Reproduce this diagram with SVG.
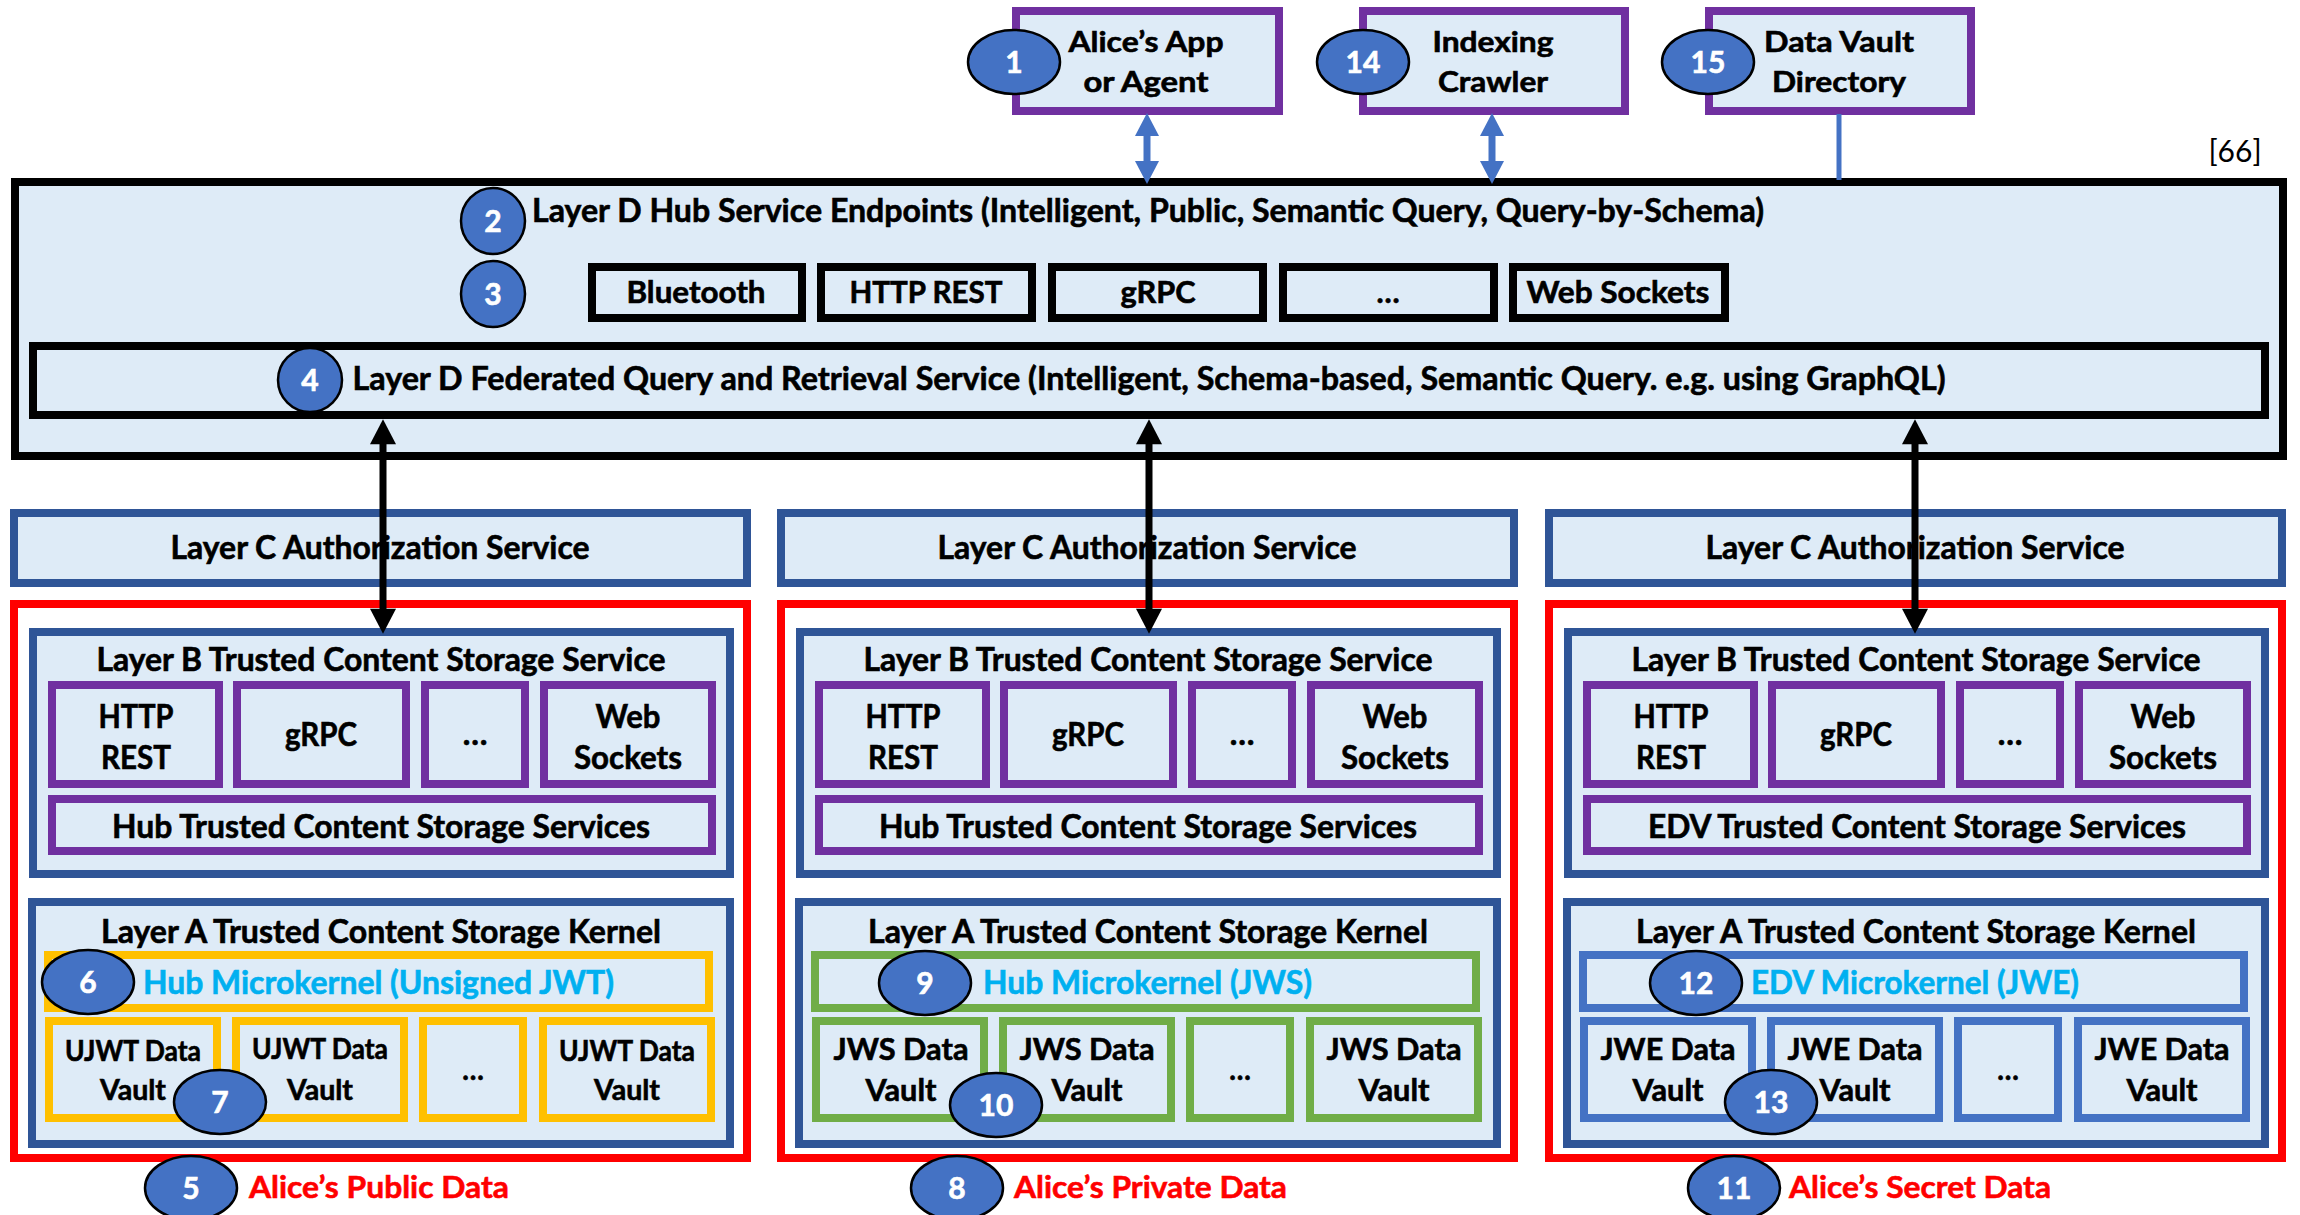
<svg xmlns="http://www.w3.org/2000/svg" width="2300" height="1215" viewBox="0 0 2300 1215">
<defs>
<style>
.bg{fill:#DEEBF7}
.pur{fill:#DEEBF7;stroke:#7030A0;stroke-width:8}
.blk{fill:#DEEBF7;stroke:#000;stroke-width:8}
.dbl{fill:#DEEBF7;stroke:#2F5597;stroke-width:8}
.red{fill:#FFFFFF;stroke:#FF0000;stroke-width:8}
.yel{fill:#DEEBF7;stroke:#FFC000;stroke-width:8}
.grn{fill:#DEEBF7;stroke:#70AD47;stroke-width:8}
.blu{fill:#DEEBF7;stroke:#4472C4;stroke-width:8}
text{font-family:Lato,"Open Sans","Liberation Sans",sans-serif;font-weight:700;fill:#000;stroke:#000;stroke-width:0.6}
.c{text-anchor:middle}
.t32{font-size:32px}
.t30{font-size:30px}
.t28{font-size:28px}
.cy{fill:#00B0F0;stroke:#00B0F0;font-size:32px}
.rd{fill:#FF0000;stroke:#FF0000;font-size:31px}
.badge ellipse{fill:#4472C4;stroke:#000;stroke-width:2.5}
.badge text{fill:#FFFFFF;stroke:#FFFFFF;font-size:30px;text-anchor:middle}
.ref{font-weight:400;font-size:30px;stroke:none}
</style>
<marker id="ab" markerUnits="userSpaceOnUse" markerWidth="26" markerHeight="26" viewBox="0 0 24 25" refX="4" refY="12.5" orient="auto-start-reverse">
<path d="M0,0 L24,12.5 L0,25 z" fill="#000"/>
</marker>
<marker id="ablue" markerUnits="userSpaceOnUse" markerWidth="24" markerHeight="24" viewBox="0 0 23 24" refX="4" refY="12" orient="auto-start-reverse">
<path d="M0,0 L23,12 L0,24 z" fill="#4472C4"/>
</marker>
</defs>
<rect width="2300" height="1215" fill="#FFFFFF"/>

<!-- Top nodes -->
<g id="node-app">
<rect class="pur" x="1016" y="11" width="263" height="100"/>
<text class="c t28" x="1146" y="52" textLength="155" lengthAdjust="spacingAndGlyphs">Alice’s App</text>
<text class="c t28" x="1146" y="92" textLength="125" lengthAdjust="spacingAndGlyphs">or Agent</text>
<g class="badge"><ellipse cx="1014" cy="62" rx="46" ry="32"/><text x="1014" y="73">1</text></g>
</g>
<g id="node-crawler">
<rect class="pur" x="1363" y="11" width="262" height="100"/>
<text class="c t28" x="1493" y="52" textLength="121" lengthAdjust="spacingAndGlyphs">Indexing</text>
<text class="c t28" x="1493" y="92" textLength="110" lengthAdjust="spacingAndGlyphs">Crawler</text>
<g class="badge"><ellipse cx="1363" cy="62" rx="46" ry="32"/><text x="1363" y="73">14</text></g>
</g>
<g id="node-directory">
<rect class="pur" x="1709" y="11" width="262" height="100"/>
<text class="c t28" x="1839" y="52" textLength="150" lengthAdjust="spacingAndGlyphs">Data Vault</text>
<text class="c t28" x="1839" y="92" textLength="134" lengthAdjust="spacingAndGlyphs">Directory</text>
<g class="badge"><ellipse cx="1708" cy="62" rx="46" ry="32"/><text x="1708" y="73">15</text></g>
</g>
<text id="ref66" class="ref c" x="2235" y="162">[66]</text>

<!-- Layer D -->
<g id="layer-d">
<rect class="blk" x="15" y="182" width="2268" height="274"/>
<text class="c t32" x="1148" y="222" textLength="1232" lengthAdjust="spacingAndGlyphs">Layer D Hub Service Endpoints (Intelligent, Public, Semantic Query, Query-by-Schema)</text>
<g class="badge"><ellipse cx="493" cy="221" rx="32" ry="33"/><text x="493" y="232">2</text></g>
</g>
<g id="layer-d-protocols">
<g id="d-bluetooth"><rect class="blk" x="592" y="267" width="210" height="51"/><text class="c t30" x="696" y="303" textLength="139" lengthAdjust="spacingAndGlyphs">Bluetooth</text></g>
<g id="d-http"><rect class="blk" x="821" y="267" width="211" height="51"/><text class="c t30" x="926" y="303" textLength="153" lengthAdjust="spacingAndGlyphs">HTTP REST</text></g>
<g id="d-grpc"><rect class="blk" x="1052" y="267" width="211" height="51"/><text class="c t30" x="1158" y="303" textLength="75" lengthAdjust="spacingAndGlyphs">gRPC</text></g>
<g id="d-more"><rect class="blk" x="1283" y="267" width="211" height="51"/><text class="c t30" x="1388" y="303">…</text></g>
<g id="d-ws"><rect class="blk" x="1513" y="267" width="212" height="51"/><text class="c t30" x="1618" y="303" textLength="183" lengthAdjust="spacingAndGlyphs">Web Sockets</text></g>
<g class="badge"><ellipse cx="493" cy="294" rx="32" ry="33"/><text x="493" y="305">3</text></g>
</g>
<g id="layer-d-federated">
<rect class="blk" x="33" y="346" width="2232" height="69"/>
<text class="c t32" x="1149" y="390" textLength="1593" lengthAdjust="spacingAndGlyphs">Layer D Federated Query and Retrieval Service (Intelligent, Schema-based, Semantic Query. e.g. using GraphQL)</text>
<g class="badge"><ellipse cx="310" cy="380" rx="32" ry="32"/><text x="310" y="391">4</text></g>
</g>

<!-- Column 1: Public -->
<g id="c1-layer-c"><rect class="dbl" x="14" y="513" width="733" height="70"/><text class="c t32" x="380" y="559" textLength="419" lengthAdjust="spacingAndGlyphs">Layer C Authorization Service</text></g>
<g id="c1-public">
<rect class="red" x="14" y="604" width="733" height="554"/>
<g id="c1-layer-b">
<rect class="dbl" x="33" y="632" width="697" height="242"/>
<text class="c t32" x="381" y="671" textLength="569" lengthAdjust="spacingAndGlyphs">Layer B Trusted Content Storage Service</text>
<rect class="pur" x="52" y="685" width="167" height="99"/><text class="c t32" x="136" y="728" textLength="75" lengthAdjust="spacingAndGlyphs">HTTP</text><text class="c t32" x="136" y="769" textLength="70" lengthAdjust="spacingAndGlyphs">REST</text>
<rect class="pur" x="237" y="685" width="169" height="99"/><text class="c t32" x="321" y="746" textLength="72" lengthAdjust="spacingAndGlyphs">gRPC</text>
<rect class="pur" x="425" y="685" width="100" height="99"/><text class="c t32" x="475" y="745">…</text>
<rect class="pur" x="544" y="685" width="168" height="99"/><text class="c t32" x="628" y="728" textLength="65" lengthAdjust="spacingAndGlyphs">Web</text><text class="c t32" x="628" y="769" textLength="108" lengthAdjust="spacingAndGlyphs">Sockets</text>
<rect class="pur" x="52" y="799" width="660" height="52"/><text class="c t32" x="381" y="838" textLength="538" lengthAdjust="spacingAndGlyphs">Hub Trusted Content Storage Services</text>
</g>
<g id="c1-layer-a">
<rect class="dbl" x="32" y="902" width="698" height="242"/>
<text class="c t32" x="381" y="943" textLength="560" lengthAdjust="spacingAndGlyphs">Layer A Trusted Content Storage Kernel</text>
<rect class="yel" x="48" y="955" width="661" height="53"/>
<text class="cy" x="143" y="994" textLength="471" lengthAdjust="spacingAndGlyphs">Hub Microkernel (Unsigned JWT)</text>
<rect class="yel" x="49" y="1021" width="168" height="97"/><text class="c t28" x="133" y="1061" textLength="136" lengthAdjust="spacingAndGlyphs">UJWT Data</text><text class="c t28" x="133" y="1100" textLength="66" lengthAdjust="spacingAndGlyphs">Vault</text>
<rect class="yel" x="236" y="1021" width="168" height="97"/><text class="c t28" x="320" y="1059" textLength="136" lengthAdjust="spacingAndGlyphs">UJWT Data</text><text class="c t28" x="320" y="1100" textLength="66" lengthAdjust="spacingAndGlyphs">Vault</text>
<rect class="yel" x="423" y="1021" width="100" height="97"/><text class="c t28" x="473" y="1080">…</text>
<rect class="yel" x="543" y="1021" width="168" height="97"/><text class="c t28" x="627" y="1061" textLength="136" lengthAdjust="spacingAndGlyphs">UJWT Data</text><text class="c t28" x="627" y="1100" textLength="66" lengthAdjust="spacingAndGlyphs">Vault</text>
<g class="badge"><ellipse cx="88" cy="982" rx="46" ry="32"/><text x="88" y="993">6</text></g>
<g class="badge"><ellipse cx="220" cy="1102" rx="46" ry="32"/><text x="220" y="1113">7</text></g>
</g>
<g class="badge"><ellipse cx="191" cy="1188" rx="46" ry="32"/><text x="191" y="1199">5</text></g>
<text class="rd" x="249" y="1198" textLength="260" lengthAdjust="spacingAndGlyphs">Alice’s Public Data</text>
</g>

<!-- Column 2: Private -->
<g id="c2-layer-c"><rect class="dbl" x="781" y="513" width="733" height="70"/><text class="c t32" x="1147" y="559" textLength="419" lengthAdjust="spacingAndGlyphs">Layer C Authorization Service</text></g>
<g id="c2-private">
<rect class="red" x="781" y="604" width="733" height="554"/>
<g id="c2-layer-b">
<rect class="dbl" x="800" y="632" width="697" height="242"/>
<text class="c t32" x="1148" y="671" textLength="569" lengthAdjust="spacingAndGlyphs">Layer B Trusted Content Storage Service</text>
<rect class="pur" x="819" y="685" width="167" height="99"/><text class="c t32" x="903" y="728" textLength="75" lengthAdjust="spacingAndGlyphs">HTTP</text><text class="c t32" x="903" y="769" textLength="70" lengthAdjust="spacingAndGlyphs">REST</text>
<rect class="pur" x="1004" y="685" width="169" height="99"/><text class="c t32" x="1088" y="746" textLength="72" lengthAdjust="spacingAndGlyphs">gRPC</text>
<rect class="pur" x="1192" y="685" width="100" height="99"/><text class="c t32" x="1242" y="745">…</text>
<rect class="pur" x="1311" y="685" width="168" height="99"/><text class="c t32" x="1395" y="728" textLength="65" lengthAdjust="spacingAndGlyphs">Web</text><text class="c t32" x="1395" y="769" textLength="108" lengthAdjust="spacingAndGlyphs">Sockets</text>
<rect class="pur" x="819" y="799" width="660" height="52"/><text class="c t32" x="1148" y="838" textLength="538" lengthAdjust="spacingAndGlyphs">Hub Trusted Content Storage Services</text>
</g>
<g id="c2-layer-a">
<rect class="dbl" x="799" y="902" width="698" height="242"/>
<text class="c t32" x="1148" y="943" textLength="560" lengthAdjust="spacingAndGlyphs">Layer A Trusted Content Storage Kernel</text>
<rect class="grn" x="815" y="955" width="661" height="53"/>
<text class="cy" x="983" y="994" textLength="329" lengthAdjust="spacingAndGlyphs">Hub Microkernel (JWS)</text>
<rect class="grn" x="816" y="1021" width="168" height="97"/><text class="c t30" x="901" y="1060" textLength="135" lengthAdjust="spacingAndGlyphs">JWS Data</text><text class="c t30" x="901" y="1101" textLength="71" lengthAdjust="spacingAndGlyphs">Vault</text>
<rect class="grn" x="1003" y="1021" width="168" height="97"/><text class="c t30" x="1087" y="1060" textLength="135" lengthAdjust="spacingAndGlyphs">JWS Data</text><text class="c t30" x="1087" y="1101" textLength="71" lengthAdjust="spacingAndGlyphs">Vault</text>
<rect class="grn" x="1190" y="1021" width="100" height="97"/><text class="c t28" x="1240" y="1080">…</text>
<rect class="grn" x="1310" y="1021" width="168" height="97"/><text class="c t30" x="1394" y="1060" textLength="135" lengthAdjust="spacingAndGlyphs">JWS Data</text><text class="c t30" x="1394" y="1101" textLength="71" lengthAdjust="spacingAndGlyphs">Vault</text>
<g class="badge"><ellipse cx="925" cy="983" rx="46" ry="32"/><text x="925" y="994">9</text></g>
<g class="badge"><ellipse cx="996" cy="1105" rx="46" ry="32"/><text x="996" y="1116">10</text></g>
</g>
<g class="badge"><ellipse cx="957" cy="1188" rx="46" ry="32"/><text x="957" y="1199">8</text></g>
<text class="rd" x="1014" y="1198" textLength="273" lengthAdjust="spacingAndGlyphs">Alice’s Private Data</text>
</g>

<!-- Column 3: Secret -->
<g id="c3-layer-c"><rect class="dbl" x="1549" y="513" width="733" height="70"/><text class="c t32" x="1915" y="559" textLength="419" lengthAdjust="spacingAndGlyphs">Layer C Authorization Service</text></g>
<g id="c3-secret">
<rect class="red" x="1549" y="604" width="733" height="554"/>
<g id="c3-layer-b">
<rect class="dbl" x="1568" y="632" width="697" height="242"/>
<text class="c t32" x="1916" y="671" textLength="569" lengthAdjust="spacingAndGlyphs">Layer B Trusted Content Storage Service</text>
<rect class="pur" x="1587" y="685" width="167" height="99"/><text class="c t32" x="1671" y="728" textLength="75" lengthAdjust="spacingAndGlyphs">HTTP</text><text class="c t32" x="1671" y="769" textLength="70" lengthAdjust="spacingAndGlyphs">REST</text>
<rect class="pur" x="1772" y="685" width="169" height="99"/><text class="c t32" x="1856" y="746" textLength="72" lengthAdjust="spacingAndGlyphs">gRPC</text>
<rect class="pur" x="1960" y="685" width="100" height="99"/><text class="c t32" x="2010" y="745">…</text>
<rect class="pur" x="2079" y="685" width="168" height="99"/><text class="c t32" x="2163" y="728" textLength="65" lengthAdjust="spacingAndGlyphs">Web</text><text class="c t32" x="2163" y="769" textLength="108" lengthAdjust="spacingAndGlyphs">Sockets</text>
<rect class="pur" x="1587" y="799" width="660" height="52"/><text class="c t32" x="1917" y="838" textLength="538" lengthAdjust="spacingAndGlyphs">EDV Trusted Content Storage Services</text>
</g>
<g id="c3-layer-a">
<rect class="dbl" x="1567" y="902" width="698" height="242"/>
<text class="c t32" x="1916" y="943" textLength="560" lengthAdjust="spacingAndGlyphs">Layer A Trusted Content Storage Kernel</text>
<rect class="blu" x="1583" y="955" width="661" height="53"/>
<text class="cy" x="1751" y="994" textLength="328" lengthAdjust="spacingAndGlyphs">EDV Microkernel (JWE)</text>
<rect class="blu" x="1584" y="1021" width="168" height="97"/><text class="c t30" x="1668" y="1060" textLength="135" lengthAdjust="spacingAndGlyphs">JWE Data</text><text class="c t30" x="1668" y="1101" textLength="71" lengthAdjust="spacingAndGlyphs">Vault</text>
<rect class="blu" x="1771" y="1021" width="168" height="97"/><text class="c t30" x="1855" y="1060" textLength="135" lengthAdjust="spacingAndGlyphs">JWE Data</text><text class="c t30" x="1855" y="1101" textLength="71" lengthAdjust="spacingAndGlyphs">Vault</text>
<rect class="blu" x="1958" y="1021" width="100" height="97"/><text class="c t28" x="2008" y="1080">…</text>
<rect class="blu" x="2078" y="1021" width="168" height="97"/><text class="c t30" x="2162" y="1060" textLength="135" lengthAdjust="spacingAndGlyphs">JWE Data</text><text class="c t30" x="2162" y="1101" textLength="71" lengthAdjust="spacingAndGlyphs">Vault</text>
<g class="badge"><ellipse cx="1696" cy="983" rx="46" ry="32"/><text x="1696" y="994">12</text></g>
<g class="badge"><ellipse cx="1771" cy="1102" rx="46" ry="32"/><text x="1771" y="1113">13</text></g>
</g>
<g class="badge"><ellipse cx="1734" cy="1188" rx="46" ry="32"/><text x="1734" y="1199">11</text></g>
<text class="rd" x="1789" y="1198" textLength="262" lengthAdjust="spacingAndGlyphs">Alice’s Secret Data</text>
</g>

<!-- Connectors -->
<g id="connectors">
<line x1="1147" y1="132" x2="1147" y2="165" stroke="#4472C4" stroke-width="7" marker-start="url(#ablue)" marker-end="url(#ablue)"/>
<line x1="1492" y1="132" x2="1492" y2="165" stroke="#4472C4" stroke-width="7" marker-start="url(#ablue)" marker-end="url(#ablue)"/>
<line x1="1839" y1="114" x2="1839" y2="180" stroke="#4472C4" stroke-width="5"/>
<line x1="383" y1="440" x2="383" y2="613" stroke="#000" stroke-width="7" marker-start="url(#ab)" marker-end="url(#ab)"/>
<line x1="1149" y1="440" x2="1149" y2="613" stroke="#000" stroke-width="7" marker-start="url(#ab)" marker-end="url(#ab)"/>
<line x1="1915" y1="440" x2="1915" y2="613" stroke="#000" stroke-width="7" marker-start="url(#ab)" marker-end="url(#ab)"/>
</g>
</svg>
